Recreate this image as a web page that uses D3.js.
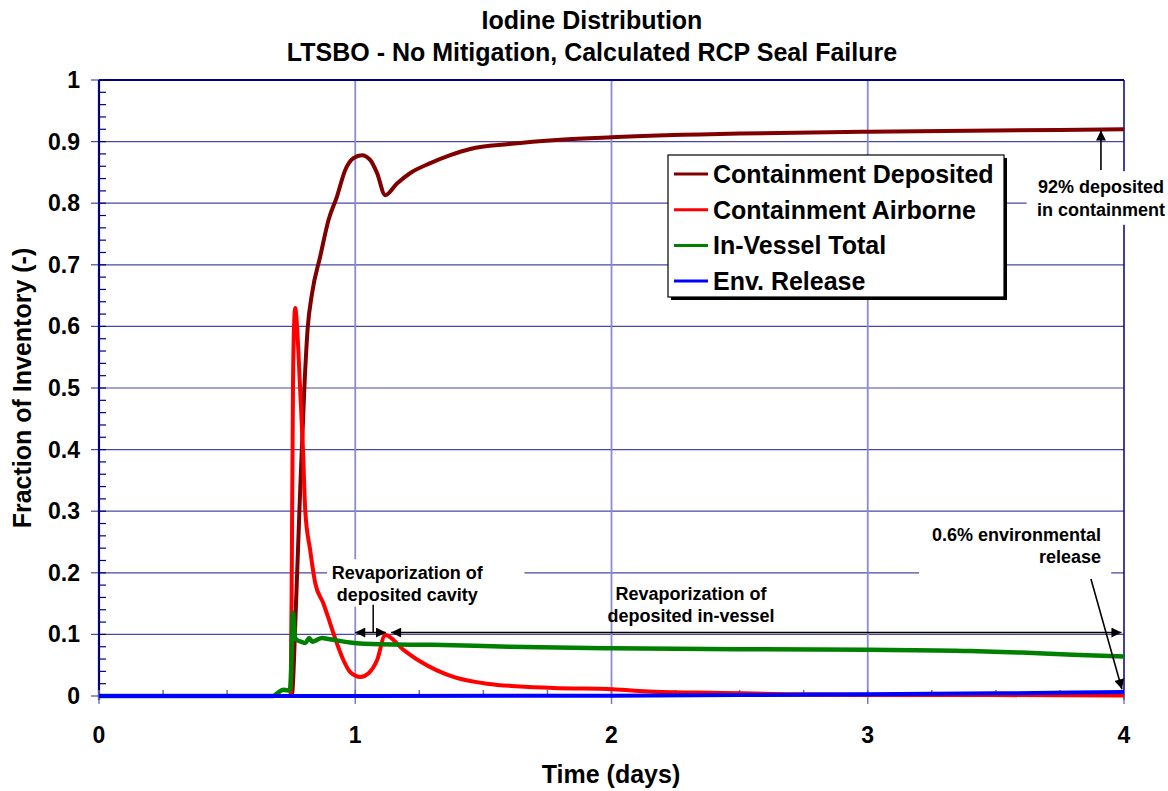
<!DOCTYPE html>
<html><head><meta charset="utf-8">
<script src="https://cdn.jsdelivr.net/npm/d3@7"></script>
<style>
html,body{margin:0;padding:0;background:#fff;}
text{font-family:"Liberation Sans",Arial,sans-serif;font-weight:bold;fill:#000;}
</style></head>
<body><svg id="c" width="1168" height="791"></svg>
<script>
// ---------------- data ----------------
const titleLines = ["Iodine Distribution", "LTSBO - No Mitigation, Calculated RCP Seal Failure"];
const xLabel = "Time (days)";
const yLabel = "Fraction of Inventory (-)";
const xTicks = [0, 1, 2, 3, 4];
const yTicks = [0, 0.1, 0.2, 0.3, 0.4, 0.5, 0.6, 0.7, 0.8, 0.9, 1];
const seriesNames = ["Containment Deposited", "Containment Airborne", "In-Vessel Total", "Env. Release"];
const seriesColors = ["#800000", "#ff0000", "#008000", "#0000ff"];

const depT = [0, 0.745, 0.754, 0.766, 0.782, 0.801, 0.814, 0.832, 0.863, 0.896, 0.928, 0.961, 0.993, 1.026, 1.059, 1.085, 1.117, 1.163, 1.215, 1.293, 1.371, 1.449, 1.6, 1.8, 2.0, 2.5, 3.0, 3.5, 4.0];
const depV = [0, 0, 0.005, 0.118, 0.30, 0.497, 0.595, 0.655, 0.713, 0.773, 0.81, 0.854, 0.873, 0.878, 0.870, 0.849, 0.813, 0.832, 0.849, 0.865, 0.878, 0.888, 0.896, 0.903, 0.907, 0.913, 0.916, 0.918, 0.920];

const airT = [0, 0.748, 0.753, 0.757, 0.762, 0.766, 0.772, 0.785, 0.796, 0.805, 0.824, 0.844, 0.875, 0.902, 0.928, 0.954, 0.980, 1.020, 1.052, 1.085, 1.117, 1.188, 1.254, 1.383, 1.514, 1.773, 2.003, 2.164, 2.426, 2.688, 3.0, 3.5, 4.0];
const airV = [0, 0, 0.25, 0.5, 0.61, 0.63, 0.605, 0.497, 0.40, 0.30, 0.237, 0.183, 0.151, 0.118, 0.086, 0.058, 0.039, 0.031, 0.037, 0.058, 0.099, 0.075, 0.056, 0.031, 0.020, 0.013, 0.011, 0.007, 0.005, 0.003, 0.002, 0.0015, 0.001];

const vesT = [0, 0.68, 0.70, 0.72, 0.745, 0.749, 0.757, 0.765, 0.772, 0.79, 0.805, 0.82, 0.832, 0.845, 0.87, 0.90, 0.98, 1.1, 1.3, 1.6, 2.0, 2.5, 3.0, 3.4, 3.6, 3.8, 4.0];
const vesV = [0, 0, 0.006, 0.010, 0.009, 0.03, 0.135, 0.095, 0.091, 0.088, 0.086, 0.094, 0.088, 0.090, 0.094, 0.092, 0.087, 0.084, 0.083, 0.080, 0.0775, 0.076, 0.075, 0.073, 0.0705, 0.067, 0.064];

const envT = [0, 2.0, 2.5, 3.0, 3.5, 3.8, 4.0];
const envV = [0, 0.0005, 0.0015, 0.003, 0.0043, 0.0055, 0.0065];

// annotations (data coords)
const noteTexts = [
  ["Revaporization of", "deposited cavity"],
  ["Revaporization of", "deposited in-vessel"],
  ["92% deposited", "in containment"],
  ["0.6% environmental", "release"]
];
const noteAnchors = [[1.203, 0.19], [2.31, 0.156], [3.91, 0.816], [3.91, 0.252]];

// ---------------- layout ----------------
const svg = d3.select("#c");
const L = 99, R = 1124, T = 80, B = 696;
const x = d3.scaleLinear().domain([0, 4]).range([L, R]);
const y = d3.scaleLinear().domain([0, 1]).range([B, T]);

// gridlines
svg.append("g").selectAll("line").data(yTicks.filter(d => d > 0 && d < 1)).join("line")
  .attr("x1", L).attr("x2", R).attr("y1", d => y(d)).attr("y2", d => y(d))
  .attr("stroke", "#4848a0").attr("stroke-width", 1.2);
svg.append("g").selectAll("line").data(xTicks.filter(d => d > 0 && d < 4)).join("line")
  .attr("y1", T).attr("y2", B).attr("x1", d => x(d)).attr("x2", d => x(d))
  .attr("stroke", "#8c8cc8").attr("stroke-width", 1.8);

// frame
svg.append("line").attr("x1", L).attr("x2", R).attr("y1", T).attr("y2", T).attr("stroke", "#000080").attr("stroke-width", 2);
svg.append("line").attr("x1", R).attr("x2", R).attr("y1", T).attr("y2", B + 4).attr("stroke", "#000080").attr("stroke-width", 1.5);

// y axis minor ticks (inside)
const yMinor = d3.range(0, 1.0001, 0.02);
svg.append("g").selectAll("line").data(yMinor).join("line")
  .attr("x1", L).attr("x2", L + 7).attr("y1", d => y(d)).attr("y2", d => y(d))
  .attr("stroke", "#000080").attr("stroke-width", 1.2);
// y major ticks (outside)
svg.append("g").selectAll("line").data(yTicks).join("line")
  .attr("x1", L - 8).attr("x2", L).attr("y1", d => y(d)).attr("y2", d => y(d))
  .attr("stroke", "#4848a0").attr("stroke-width", 1.2);
svg.append("line").attr("x1", L).attr("x2", L).attr("y1", T).attr("y2", B + 4).attr("stroke", "#000080").attr("stroke-width", 2.2);

// x axis ticks
const xMinor = d3.range(0, 4.0001, 0.25);
svg.append("g").selectAll("line").data(xMinor).join("line")
  .attr("x1", d => x(d)).attr("x2", d => x(d)).attr("y1", B - 6).attr("y2", B)
  .attr("stroke", "#6a6ab8").attr("stroke-width", 1.5);
svg.append("g").selectAll("line").data(xTicks).join("line")
  .attr("x1", d => x(d)).attr("x2", d => x(d)).attr("y1", B).attr("y2", B + 8)
  .attr("stroke", "#7a7abf").attr("stroke-width", 1.5);
svg.append("line").attr("x1", L).attr("x2", R).attr("y1", B).attr("y2", B).attr("stroke", "#000080").attr("stroke-width", 1.5);

// tick labels
svg.append("g").selectAll("text").data(yTicks).join("text")
  .attr("x", 80).attr("y", d => y(d) + 8).attr("text-anchor", "end")
  .style("font-size", "23px").text(d => d3.format("")(+d.toFixed(1)));
svg.append("g").selectAll("text").data(xTicks).join("text")
  .attr("x", d => x(d)).attr("y", 743).attr("text-anchor", "middle")
  .style("font-size", "23px").text(d => d);

// axis titles
svg.append("text").attr("x", 611).attr("y", 783).attr("text-anchor", "middle")
  .style("font-size", "25px").text(xLabel);
svg.append("text").attr("transform", `translate(31,${(T + B) / 2}) rotate(-90)`).attr("text-anchor", "middle")
  .style("font-size", "25px").text(yLabel);

// title
svg.append("g").selectAll("text").data(titleLines).join("text")
  .attr("x", 592).attr("y", (d, i) => 29 + i * 32).attr("text-anchor", "middle")
  .style("font-size", "25px").text(d => d);

// annotation background boxes (mask gridlines)
const boxes = [[0.89, 0.222, 1.66, 0.145], [3.2, 0.298, 3.95, 0.192], [3.62, 0.852, 4.3, 0.765]];
svg.append("g").selectAll("rect").data(boxes).join("rect")
  .attr("x", d => x(d[0])).attr("y", d => y(d[1]))
  .attr("width", d => x(d[2]) - x(d[0])).attr("height", d => y(d[3]) - y(d[1]))
  .attr("fill", "#fff");

// series
const series = [[depT, depV], [airT, airV], [vesT, vesV], [envT, envV]];
const widths = [4, 4, 4.5, 4];
const line = d3.line().x(d => x(d[0])).y(d => y(d[1])).curve(d3.curveMonotoneX);
series.forEach((s, i) => {
  const pts = s[0].map((t, k) => [t, s[1][k]]);
  svg.append("path").datum(pts).attr("d", line).attr("fill", "none")
    .attr("stroke", seriesColors[i]).attr("stroke-width", widths[i]).attr("stroke-linejoin", "round");
});

// arrow markers
const defs = svg.append("defs");
defs.append("marker").attr("id", "ah").attr("viewBox", "0 0 10 10").attr("refX", 10).attr("refY", 5)
  .attr("markerWidth", 11).attr("markerHeight", 10).attr("markerUnits", "userSpaceOnUse").attr("orient", "auto-start-reverse")
  .append("path").attr("d", "M0,0 L10,5 L0,10 z").attr("fill", "#000");

const arrows = [
  {p: [[1.0, 0.103], [1.12, 0.103]], both: true},
  {p: [[1.14, 0.103], [3.99, 0.103]], both: true},
  {p: [[3.91, 0.854], [3.91, 0.918]], both: false},
  {p: [[3.871, 0.19], [3.992, 0.011]], both: false}
];
arrows.forEach(a => {
  const el = svg.append("line").attr("x1", x(a.p[0][0])).attr("y1", y(a.p[0][1]))
    .attr("x2", x(a.p[1][0])).attr("y2", y(a.p[1][1])).attr("stroke", "#000").attr("stroke-width", 1.6)
    .attr("marker-end", "url(#ah)");
  if (a.both) el.attr("marker-start", "url(#ah)");
});
// leader from cavity text
svg.append("line").attr("x1", x(1.07)).attr("x2", x(1.07)).attr("y1", y(0.148)).attr("y2", y(0.103))
  .attr("stroke", "#000").attr("stroke-width", 1.5);

// annotation texts
const anchors = ["middle", "middle", "middle", "end"];
noteTexts.forEach((lines, i) => {
  const g = svg.append("text").attr("text-anchor", anchors[i]).style("font-size", "18px");
  lines.forEach((s, k) => g.append("tspan").attr("x", x(noteAnchors[i][0])).attr("y", y(noteAnchors[i][1]) + k * 22.5).text(s));
});

// legend
const lg = svg.append("g");
const lx = 668, ly = 155, lw = 336, lh = 142;
lg.append("rect").attr("x", lx + 3).attr("y", ly + 3).attr("width", lw).attr("height", lh).attr("fill", "#000");
lg.append("rect").attr("x", lx).attr("y", ly).attr("width", lw).attr("height", lh).attr("fill", "#fff").attr("stroke", "#000").attr("stroke-width", 1.2);
seriesNames.forEach((n, i) => {
  const yy = ly + 19 + i * 35.7;
  lg.append("line").attr("x1", lx + 6).attr("x2", lx + 40).attr("y1", yy).attr("y2", yy)
    .attr("stroke", seriesColors[i]).attr("stroke-width", 3);
  lg.append("text").attr("x", lx + 45).attr("y", yy + 9).style("font-size", "25px").text(n);
});
</script></body></html>
